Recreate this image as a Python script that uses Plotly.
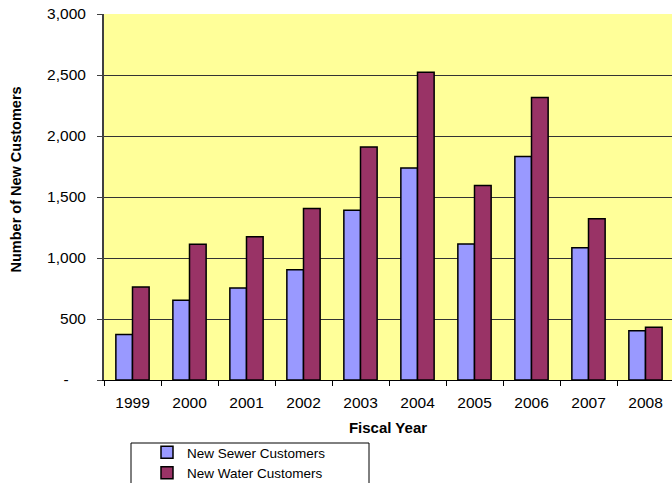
import plotly.graph_objects as go

years = ["1999", "2000", "2001", "2002", "2003", "2004", "2005", "2006", "2007", "2008"]
sewer = [372, 653, 755, 903, 1392, 1738, 1115, 1831, 1085, 403]
water = [763, 1113, 1175, 1405, 1910, 2523, 1595, 2315, 1321, 433]
y_tickvals = [0, 500, 1000, 1500, 2000, 2500, 3000]
y_ticktext = ["-\u00a0\u00a0\u00a0\u00a0", "500", "1,000", "1,500", "2,000", "2,500", "3,000"]

FONT = "Liberation Sans, Arial, sans-serif"
W, H = 672, 483
L, R, T, B = 104, 0, 14, 103
pw, ph = W - L - R, H - T - B

def px_x(px):
    return (px - L) / pw

def px_y(py):
    return (H - B - py) / ph

fig = go.Figure()
fig.add_trace(go.Bar(x=years, y=sewer, name="New Sewer Customers",
                     marker=dict(color="#9999FF", line=dict(color="#000000", width=1.5))))
fig.add_trace(go.Bar(x=years, y=water, name="New Water Customers",
                     marker=dict(color="#993366", line=dict(color="#000000", width=1.5))))

fig.update_layout(
    width=W, height=H,
    margin=dict(l=L, r=R, t=T, b=B, pad=0, autoexpand=False),
    paper_bgcolor="white",
    plot_bgcolor="#FFFF99",
    barmode="group",
    bargap=0.416,
    bargroupgap=0,
    font=dict(family=FONT, size=15, color="#000000"),
    showlegend=True,
    legend=dict(
        x=px_x(147), y=px_y(437), xanchor="left", yanchor="top",
        bgcolor="rgba(0,0,0,0)", borderwidth=0,
        font=dict(family=FONT, size=13.5, color="#000000"),
        itemwidth=30, tracegroupgap=0,
    ),
    xaxis=dict(
        type="category",
        range=[-0.5, 9.465],
        showline=True, linecolor="#000000", linewidth=1,
        ticks="outside", ticklen=5, tickcolor="#000000", tickwidth=1,
        tickson="boundaries",
        showgrid=False,
        ticklabelstandoff=8,
        tickfont=dict(family=FONT, size=15.5),
        title=dict(text="<b>Fiscal Year</b>", font=dict(family=FONT, size=15), standoff=12),
    ),
    yaxis=dict(
        range=[0, 3000],
        tickvals=y_tickvals, ticktext=y_ticktext,
        showline=True, linecolor="#404040", linewidth=2,
        ticks="outside", ticklen=5, tickcolor="#404040", tickwidth=1,
        showgrid=True, gridcolor="#333333", gridwidth=1,
        zeroline=False,
        ticklabelstandoff=8,
        tickfont=dict(family=FONT, size=15.5),
    ),
    annotations=[dict(
        text="<b>Number of New Customers</b>", textangle=-90,
        xref="paper", yref="paper", x=px_x(15), y=px_y(179.5),
        xanchor="center", yanchor="middle", showarrow=False,
        font=dict(family=FONT, size=14.5, color="#000000"),
    )],
    shapes=[dict(type="rect", xref="paper", yref="paper",
                 x0=px_x(131), x1=px_x(369), y0=px_y(443), y1=px_y(500),
                 line=dict(color="#000000", width=1), fillcolor="rgba(0,0,0,0)")],
)

fig.write_html("out.html", config={"displayModeBar": False},
               post_script="document.body.style.margin='0';document.body.style.overflow='hidden';")
